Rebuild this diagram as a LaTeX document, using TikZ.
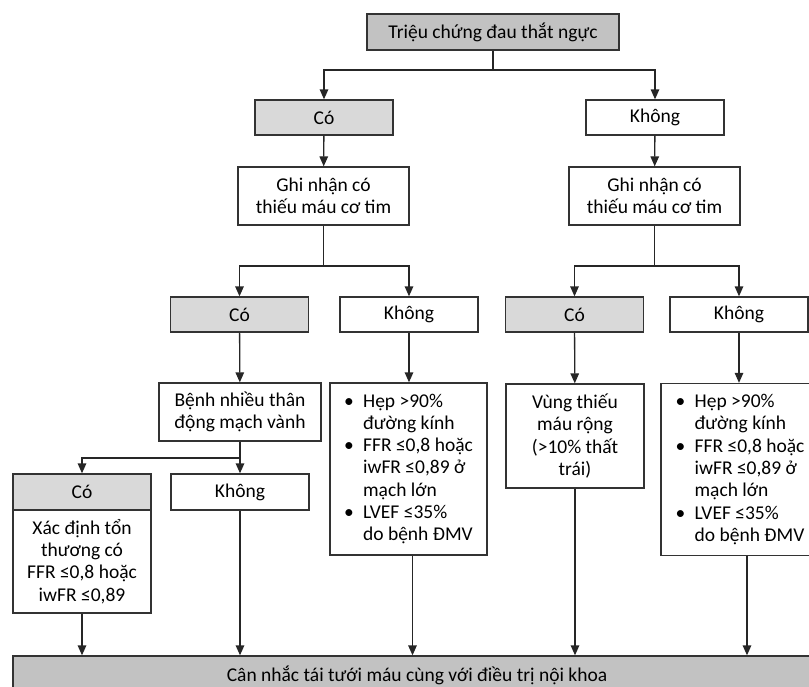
\documentclass[tikz,border=0pt]{standalone}
\usepackage{fontspec}
\setmainfont{Carlito}
\usetikzlibrary{arrows.meta, positioning, calc}

\begin{document}
\begin{tikzpicture}[
  x=1pt, y=-1pt,
  every node/.style={font=\fontsize{19.5}{22.3}\selectfont},
  box/.style={rectangle, draw=black!80, line width=1.3pt, fill=white,
              inner sep=0pt, align=center},
  yes/.style={box, fill=gray!30},
  head/.style={box, fill=gray!48},
  small/.style={minimum width=138, minimum height=35},
  twoline/.style={minimum width=171, minimum height=58},
  crit/.style={box, align=left, minimum height=172},
  arr/.style={-{Triangle[width=8.5pt,length=10pt]}, line width=1.3pt, black!85},
]
\useasboundingbox (0,0) rectangle (809,686);
\clip (0,0) rectangle (809,686);

% --- top ---
\node[head, minimum width=252, minimum height=36] (top) at (493,32) {Triệu chứng đau thắt ngực};
\coordinate (j1) at (493,70);

\node[yes, small] (co1) at (324,117.5) {Có};
\node[box, small] (kh1) at (655,117.5) {Không};

\node[box, twoline] (ghiL) at (323.5,196) {Ghi nhận có\\thiếu máu cơ tim};
\node[box, twoline] (ghiR) at (654.5,196) {Ghi nhận có\\thiếu máu cơ tim};

\draw[arr] (top) -- (j1) -| (co1);
\draw[arr] (j1) -| (kh1);
\draw[arr] (co1) -- (ghiL);
\draw[arr] (kh1) -- (ghiR);

% --- third row ---
\coordinate (j2) at (323.5,266);
\coordinate (j3) at (654.5,266);

\node[yes, small] (co3a) at (239.5,314.5) {Có};
\node[box, small] (kh3a) at (409,314.5) {Không};
\node[yes, small] (co3b) at (574.5,314.5) {Có};
\node[box, small] (kh3b) at (739,314.5) {Không};

\draw[arr] (ghiL) -- (j2) -| (co3a);
\draw[arr] (j2) -| (kh3a);
\draw[arr] (ghiR) -- (j3) -| (co3b);
\draw[arr] (j3) -| (kh3b);

% --- fourth row ---
\node[box, minimum width=162, minimum height=58] (benh) at (240,412) {Bệnh nhiều thân\\động mạch vành};
\node[crit, minimum width=157] (critL) at (408.5,469) {%
  \makebox[19pt][l]{•}Hẹp >90\%\\
  \hspace*{19pt}đường kính\\
  \makebox[19pt][l]{•}FFR ≤0,8 hoặc\\
  \hspace*{19pt}iwFR ≤0,89 ở\\
  \hspace*{19pt}mạch lớn\\
  \makebox[19pt][l]{•}LVEF ≤35\%\\
  \hspace*{19pt}do bệnh ĐMV};
\node[box, minimum width=138, minimum height=104] (vung) at (575,436) {Vùng thiếu\\máu rộng\\(>10\% thất\\trái)};
\node[crit, minimum width=172] (critR) at (747,469.5) {%
  \makebox[19pt][l]{•}Hẹp >90\%\\
  \hspace*{19pt}đường kính\\
  \makebox[19pt][l]{•}FFR ≤0,8 hoặc\\
  \hspace*{19pt}iwFR ≤0,89 ở\\
  \hspace*{19pt}mạch lớn\\
  \makebox[19pt][l]{•}LVEF ≤35\%\\
  \hspace*{19pt}do bệnh ĐMV\hspace*{14pt}};

\draw[arr] (co3a) -- (benh);
\draw[arr] (kh3a) -- (kh3a |- critL.north);
\draw[arr] (co3b) -- (vung);
\draw[arr] (kh3b) -- (kh3b |- critR.north);

% --- multivessel branch ---
\coordinate (j4) at (240,458);
\node[yes, minimum width=138, minimum height=36] (co5) at (82,492) {Có};
\node[box, minimum width=138, minimum height=103] (xac) at (82,561.5) {Xác định tổn\\thương có\\FFR ≤0,8 hoặc\\iwFR ≤0,89};
\node[box, minimum width=138, minimum height=36] (kh5) at (240,492) {Không};

\draw[arr] (benh) -- (j4) -| (co5);
\draw[arr] (j4) -- (kh5);

% --- bottom ---
\node[head, minimum width=808, minimum height=38] (bottom) at (417,675) {Cân nhắc tái tưới máu cùng với điều trị nội khoa};

\draw[arr] (xac) -- (xac |- bottom.north);
\draw[arr] (kh5) -- (kh5 |- bottom.north);
\draw[arr] ([xshift=4pt]critL.south) -- ([xshift=4pt]critL.south |- bottom.north);
\draw[arr] (vung) -- (vung |- bottom.north);
\draw[arr] (critR) -- (critR |- bottom.north);

\end{tikzpicture}
\end{document}
